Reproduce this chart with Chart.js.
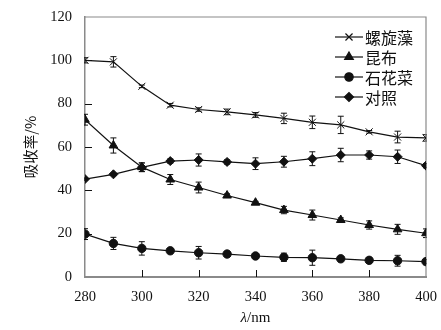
<!DOCTYPE html>
<html>
<head>
<meta charset="utf-8">
<script src="https://cdn.jsdelivr.net/npm/chart.js@4.4.1/dist/chart.umd.min.js"></script>
<style>
  html, body { margin: 0; padding: 0; background: #fff; }
  #wrap { width: 441px; height: 330px; }
</style>
</head>
<body>
<div id="wrap"><canvas id="c" width="441" height="330"></canvas></div>
<script>
// Wavelength (nm)
const wavelengths = [280, 290, 300, 310, 320, 330, 340, 350, 360, 370, 380, 390, 400];

// Absorption rate (%) per extract, with ± error
const spirulina    = [100.0, 99.3, 88.0, 79.3, 77.3, 76.2, 74.8, 73.2, 71.4, 70.2, 67.0, 64.6, 64.2];
const spirulinaErr = [1.2, 2.4, 0.6, 0.8, 0.8, 1.3, 1.1, 2.4, 2.9, 4.0, 0.6, 2.7, 1.5];

const kelp    = [72.6, 60.7, 50.7, 45.0, 41.3, 37.6, 34.3, 30.9, 28.6, 26.3, 24.0, 22.0, 20.2];
const kelpErr = [2.5, 3.5, 2.0, 2.3, 2.5, 0.8, 0.6, 1.7, 2.3, 1.0, 1.9, 2.3, 2.0];

const gelidium    = [19.8, 15.5, 13.2, 12.1, 11.2, 10.6, 9.7, 9.1, 8.9, 8.4, 7.7, 7.5, 7.1];
const gelidiumErr = [2.5, 2.8, 3.1, 0.5, 2.9, 0.5, 1.0, 1.9, 3.5, 0.5, 1.0, 2.5, 1.0];

const control    = [45.2, 47.4, 50.6, 53.5, 54.0, 53.1, 52.3, 53.2, 54.6, 56.3, 56.3, 55.5, 51.4];
const controlErr = [0.5, 0.5, 2.0, 1.0, 2.8, 1.0, 2.7, 2.5, 3.2, 3.1, 1.9, 3.1, 1.0];

const seriesNames = ['螺旋藻', '昆布', '石花菜', '对照'];
const pointShapes = ['crossRot', 'triangle', 'circle', 'rectRot'];
const pointSizes  = [5, 5, 4.2, 4.5];

const xTicks = [280, 300, 320, 340, 360, 380, 400];
const yTicks = [0, 20, 40, 60, 80, 100, 120];

const NUM_FONT = "'Liberation Serif', 'Times New Roman', serif";
const CJK_FONT = "'Noto Sans CJK SC', 'Liberation Serif', sans-serif";
const INK = '#111';
const AXIS = '#8a8a8a';

const values = [spirulina, kelp, gelidium, control];
const errors = [spirulinaErr, kelpErr, gelidiumErr, controlErr];

const datasets = values.map((vals, i) => ({
  label: seriesNames[i],
  data: wavelengths.map((w, j) => ({ x: w, y: vals[j] })),
  errors: errors[i],
  borderColor: INK,
  borderWidth: 1.2,
  backgroundColor: INK,
  pointStyle: pointShapes[i],
  pointRadius: pointSizes[i],
  pointBorderColor: INK,
  pointBackgroundColor: INK,
  pointBorderWidth: 1,
  tension: 0,
  fill: false
}));

// Vertical error bars with caps, drawn under the markers
const errorBars = {
  id: 'errorBars',
  beforeDatasetsDraw(chart) {
    const { ctx, chartArea, scales: { x, y } } = chart;
    ctx.save();
    ctx.beginPath();
    ctx.rect(chartArea.left - 1, chartArea.top, chartArea.right - chartArea.left + 2, chartArea.bottom - chartArea.top);
    ctx.clip();
    ctx.strokeStyle = INK;
    ctx.lineWidth = 1;
    chart.data.datasets.forEach(ds => {
      ds.data.forEach((p, j) => {
        const e = ds.errors[j];
        const px = x.getPixelForValue(p.x);
        const top = y.getPixelForValue(p.y + e);
        const bot = y.getPixelForValue(p.y - e);
        ctx.beginPath();
        ctx.moveTo(px, top); ctx.lineTo(px, bot);
        ctx.moveTo(px - 3, top); ctx.lineTo(px + 3, top);
        ctx.moveTo(px - 3, bot); ctx.lineTo(px + 3, bot);
        ctx.stroke();
      });
    });
    ctx.restore();
  }
};

// Plot frame, inward tick marks and the x-axis title
const frameAndTicks = {
  id: 'frameAndTicks',
  beforeDatasetsDraw(chart) {
    const { ctx, chartArea: a, scales: { x, y } } = chart;
    ctx.save();
    ctx.strokeStyle = AXIS;
    ctx.lineWidth = 1.2;
    ctx.beginPath();
    ctx.moveTo(a.left, a.top); ctx.lineTo(a.right, a.top); ctx.lineTo(a.right, a.bottom);
    ctx.stroke();

    ctx.strokeStyle = INK;
    ctx.lineWidth = 1;
    ctx.beginPath();
    xTicks.slice(1, -1).forEach(v => {
      const px = Math.round(x.getPixelForValue(v)) + 0.5;
      ctx.moveTo(px, a.bottom); ctx.lineTo(px, a.bottom - 7);
    });
    yTicks.slice(1, -1).forEach(v => {
      const py = Math.round(y.getPixelForValue(v)) + 0.5;
      ctx.moveTo(a.left, py); ctx.lineTo(a.left + 7, py);
    });
    ctx.stroke();
    ctx.restore();
  },
  afterDraw(chart) {
    const { ctx, chartArea: a } = chart;
    ctx.save();
    ctx.fillStyle = INK;
    ctx.textBaseline = 'middle';
    const lam = 'λ', rest = '/nm';
    ctx.font = `italic 15px ${NUM_FONT}`;
    const w1 = ctx.measureText(lam).width;
    ctx.font = `15px ${NUM_FONT}`;
    const w2 = ctx.measureText(rest).width;
    const cx = (a.left + a.right) / 2;
    const start = cx - (w1 + w2) / 2;
    const ty = 318;
    ctx.font = `italic 15px ${NUM_FONT}`;
    ctx.fillText(lam, start, ty);
    ctx.font = `15px ${NUM_FONT}`;
    ctx.fillText(rest, start + w1, ty);
    ctx.restore();
  }
};

// Legend in the upper right of the plot: line sample, marker, name
const insetLegend = {
  id: 'insetLegend',
  afterDraw(chart) {
    const { ctx } = chart;
    const x0 = 335, x1 = 363, rowY = 37, rowGap = 20;
    ctx.save();
    chart.data.datasets.forEach((ds, i) => {
      const yy = rowY + i * rowGap;
      ctx.strokeStyle = INK;
      ctx.lineWidth = 1.2;
      ctx.beginPath();
      ctx.moveTo(x0, yy); ctx.lineTo(x1, yy);
      ctx.stroke();
      Chart.helpers.drawPoint(ctx, {
        pointStyle: ds.pointStyle,
        radius: ds.pointRadius,
        rotation: 0,
        borderWidth: 1
      }, (x0 + x1) / 2, yy);
      ctx.fillStyle = INK;
      ctx.strokeStyle = INK;
      ctx.font = `16px ${CJK_FONT}`;
      ctx.textBaseline = 'middle';
      ctx.fillText(ds.label, x1 + 2, yy + 1);
    });
    ctx.restore();
  }
};

// Fixed scale boxes so the plot area lands at a set position
const fixBox = (s, size) => {
  if (s.isHorizontal()) s.height = size; else s.width = size;
  s.paddingLeft = 0; s.paddingRight = 0; s.paddingTop = 0; s.paddingBottom = 0;
};

new Chart(document.getElementById('c'), {
  type: 'line',
  data: { datasets },
  options: {
    responsive: false,
    animation: false,
    devicePixelRatio: 1,
    layout: { padding: { left: 0, right: 15, top: 17, bottom: 0 } },
    plugins: { legend: { display: false }, tooltip: { enabled: false } },
    scales: {
      x: {
        type: 'linear',
        min: 280, max: 400,
        afterBuildTicks: s => { s.ticks = xTicks.map(v => ({ value: v })); },
        afterFit: s => fixBox(s, 53),
        grid: { display: true, drawOnChartArea: false, drawTicks: false },
        border: { display: true, color: AXIS, width: 2 },
        ticks: { color: INK, padding: 11, font: { family: NUM_FONT, size: 14.5 }, maxRotation: 0 }
      },
      y: {
        min: 0, max: 120,
        afterBuildTicks: s => { s.ticks = yTicks.map(v => ({ value: v })); },
        afterFit: s => fixBox(s, 85),
        grid: { display: true, drawOnChartArea: false, drawTicks: false },
        border: { display: true, color: AXIS, width: 1.5 },
        ticks: { color: INK, padding: 13, font: { family: NUM_FONT, size: 14.5 } },
        title: {
          display: true,
          text: '吸收率/%',
          color: INK,
          font: { family: CJK_FONT, size: 14.5 },
          padding: { top: 22, bottom: 0 }
        }
      }
    }
  },
  plugins: [errorBars, frameAndTicks, insetLegend]
});
</script>
</body>
</html>
